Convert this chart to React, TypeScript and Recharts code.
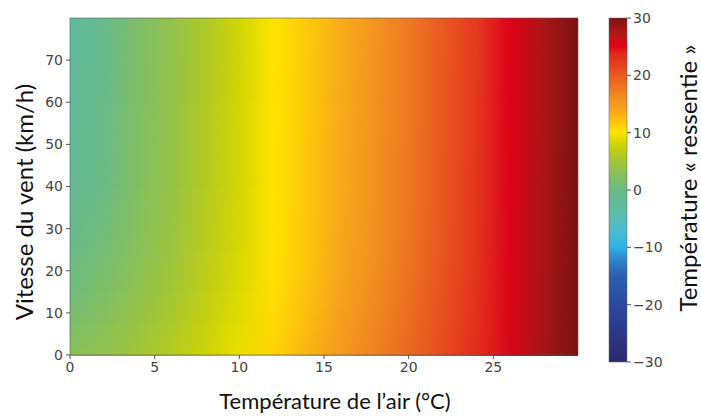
import { ComposedChart, XAxis, YAxis, ReferenceArea } from 'recharts';

// air temperature columns (°C) and wind speed rows (km/h)
const AIR_TEMPS = [0, 2, 4, 6, 8, 10, 12, 14, 16, 18, 20, 22, 24, 26, 28, 30];
const WIND_SPEEDS = [0, 8, 15, 25, 40, 60, 80];

// "feels like" temperature read per wind row
const FEELS_W0 = [3.0, 3.8, 5.0, 6.3, 7.9, 9.4, 11.0, 13.0, 15.0, 17.0, 19.0, 21.0, 23.3, 25.6, 28.1, 30];
const FEELS_W8 = [1.5, 2.8, 4.2, 5.7, 7.4, 9.0, 10.6, 12.5, 14.6, 16.6, 18.6, 20.8, 23.1, 25.5, 28.0, 30];
const FEELS_W15 = [0.5, 2.0, 3.6, 5.1, 6.9, 8.7, 10.3, 12.1, 14.2, 16.2, 18.3, 20.6, 22.9, 25.4, 28.0, 30];
const FEELS_W25 = [-0.5, 1.0, 2.9, 4.6, 6.5, 8.4, 10.1, 11.9, 13.9, 15.9, 18.0, 20.3, 22.7, 25.3, 27.9, 30];
const FEELS_W40 = [-2.0, 0.0, 2.3, 4.2, 6.2, 8.2, 10.0, 11.8, 13.7, 15.7, 17.8, 20.2, 22.6, 25.3, 27.9, 30];
const FEELS_W60 = [-2.6, -0.5, 2.0, 4.0, 6.0, 8.1, 10.0, 11.7, 13.6, 15.6, 17.7, 20.1, 22.5, 25.2, 27.8, 30];
const FEELS_W80 = [-3.0, -0.8, 1.8, 3.8, 5.8, 8.0, 10.0, 11.6, 13.5, 15.5, 17.6, 20.0, 22.4, 25.2, 27.8, 30];
const FEELS_ROWS = [FEELS_W0, FEELS_W8, FEELS_W15, FEELS_W25, FEELS_W40, FEELS_W60, FEELS_W80];

const X_TICKS = [0, 5, 10, 15, 20, 25];
const Y_TICKS = [0, 10, 20, 30, 40, 50, 60, 70];
const CBAR_TICKS = [-30, -20, -10, 0, 10, 20, 30];

// colour scale of the colour bar
const CMAP_VALUES = [-30, -25, -20, -15, -12, -10, -7, -4, -2, 0, 2, 4, 6, 8, 9, 10, 12, 14, 16, 18, 20, 22, 24, 25, 27, 29, 30];
const CMAP_COLORS = [
  '#2b2a6d', '#2b3886', '#2b4a9c', '#2c5fae', '#2f86cc', '#2fb2e6', '#4cbccf', '#5fbcaa', '#63ba97',
  '#6cbb86', '#7fbe66', '#95c24a', '#b0c924', '#cfd506', '#e2dc00', '#ffe400', '#fcc40c', '#f6a51c',
  '#f18f21', '#ec7522', '#e85a20', '#e43f1f', '#e2241d', '#e2001a', '#b81717', '#921516', '#7a1212',
];

const hexToRgb = (h: string) => [1, 3, 5].map((i) => parseInt(h.slice(i, i + 2), 16));

function colorFor(v: number) {
  if (v <= CMAP_VALUES[0]) return CMAP_COLORS[0];
  for (let i = 1; i < CMAP_VALUES.length; i++) {
    if (v <= CMAP_VALUES[i]) {
      const t = (v - CMAP_VALUES[i - 1]) / (CMAP_VALUES[i] - CMAP_VALUES[i - 1]);
      const a = hexToRgb(CMAP_COLORS[i - 1]);
      const b = hexToRgb(CMAP_COLORS[i]);
      const c = a.map((x, k) => Math.round(x + (b[k] - x) * t));
      return `rgb(${c[0]},${c[1]},${c[2]})`;
    }
  }
  return CMAP_COLORS[CMAP_COLORS.length - 1];
}

const fmtMinus = (v: number) => (v < 0 ? `\u2212${Math.abs(v)}` : `${v}`);

const tickStyle = { fontSize: 14, fill: '#444', fontFamily: 'DejaVu Sans' };
const titleStyle: React.CSSProperties = {
  position: 'absolute',
  fontFamily: 'Lato',
  color: '#111',
  whiteSpace: 'nowrap',
  lineHeight: 1,
};

// domain corners, so both charts have something to build their axes from
const heatCorners = [{ x: 0, y: 0 }, { x: 30, y: 80 }];
const barCorners = [{ x: 0, y: -30 }, { x: 1, y: 30 }];

export default function App() {
  const bands = WIND_SPEEDS.slice(0, -1).map((w, j) => ({ y1: w, y2: WIND_SPEEDS[j + 1], lo: j, hi: j + 1 }));
  // gradient runs top (30) to bottom (-30), so stops go from the highest value down
  const cbarStops = CMAP_VALUES.map((v, i) => ({ v, c: CMAP_COLORS[i] })).reverse();

  return (
    <div style={{ position: 'absolute', left: 0, top: 0, width: 701, height: 417, background: '#fff' }}>
      <div style={{ position: 'absolute', left: 0, top: 0 }}>
        <ComposedChart width={600} height={417} data={heatCorners} margin={{ top: 18, right: 22, bottom: 32, left: 20 }}>
          <defs>
            {FEELS_ROWS.map((row, j) => (
              <linearGradient key={j} id={`row-${j}`} x1="0" y1="0" x2="1" y2="0">
                {row.map((v, i) => (
                  <stop key={i} offset={AIR_TEMPS[i] / 30} stopColor={colorFor(v)} />
                ))}
              </linearGradient>
            ))}
            <linearGradient id="vfade" x1="0" y1="0" x2="0" y2="1">
              <stop offset={0} stopColor="#fff" />
              <stop offset={1} stopColor="#000" />
            </linearGradient>
            <mask id="fade" maskContentUnits="objectBoundingBox">
              <rect x={0} y={0} width={1} height={1} fill="url(#vfade)" />
            </mask>
          </defs>
          <XAxis
            type="number"
            dataKey="x"
            domain={[0, 30]}
            ticks={X_TICKS}
            allowDataOverflow
            height={30}
            tick={tickStyle}
            tickSize={4}
            tickMargin={3}
            axisLine={false}
            tickLine={{ stroke: '#555' }}
          />
          <YAxis
            type="number"
            dataKey="y"
            domain={[0, 80]}
            ticks={Y_TICKS}
            allowDataOverflow
            width={50}
            tick={tickStyle}
            tickSize={4}
            tickMargin={3}
            axisLine={false}
            tickLine={{ stroke: '#555' }}
          />
          {bands.map((b) => (
            <ReferenceArea
              key={b.lo}
              x1={0}
              x2={30}
              y1={b.y1}
              y2={b.y2}
              ifOverflow="visible"
              shape={(p: any) => (
                <g shapeRendering="crispEdges">
                  <rect x={p.x} y={p.y} width={p.width} height={p.height + 1} fill={`url(#row-${b.lo})`} />
                  <rect x={p.x} y={p.y} width={p.width} height={p.height + 1} fill={`url(#row-${b.hi})`} mask="url(#fade)" />
                </g>
              )}
            />
          ))}
          <ReferenceArea x1={0} x2={30} y1={0} y2={80} fill="none" stroke="#555" strokeWidth={0.6} ifOverflow="visible" />
        </ComposedChart>
      </div>

      <div style={{ position: 'absolute', left: 600, top: 0 }}>
        <ComposedChart width={90} height={417} data={barCorners} margin={{ top: 18, right: 13, bottom: 55, left: 9 }}>
          <defs>
            <linearGradient id="cbar" x1="0" y1="0" x2="0" y2="1">
              {cbarStops.map((s, i) => (
                <stop key={i} offset={(30 - s.v) / 60} stopColor={s.c} />
              ))}
            </linearGradient>
          </defs>
          <XAxis type="number" dataKey="x" domain={[0, 1]} hide />
          <YAxis
            type="number"
            dataKey="y"
            orientation="right"
            domain={[-30, 30]}
            ticks={CBAR_TICKS}
            width={50}
            tick={tickStyle}
            tickFormatter={fmtMinus}
            tickSize={4}
            tickMargin={2}
            axisLine={false}
            tickLine={{ stroke: '#555' }}
          />
          <ReferenceArea
            x1={0}
            x2={1}
            y1={-30}
            y2={30}
            ifOverflow="visible"
            shape={(p: any) => (
              <rect x={p.x} y={p.y} width={p.width} height={p.height} fill="url(#cbar)" stroke="#666" strokeWidth={0.5} />
            )}
          />
        </ComposedChart>
      </div>

      <div style={{ ...titleStyle, left: 335, top: 401, fontSize: 22, transform: 'translate(-50%, -50%)' }}>
        Température de l’air (°C)
      </div>
      <div style={{ ...titleStyle, left: 24, top: 202, fontSize: 24, transform: 'translate(-50%, -50%) rotate(-90deg)' }}>
        Vitesse du vent (km/h)
      </div>
      <div style={{ ...titleStyle, left: 688, top: 178, fontSize: 24, transform: 'translate(-50%, -50%) rotate(-90deg)' }}>
        Température « ressentie »
      </div>
    </div>
  );
}
